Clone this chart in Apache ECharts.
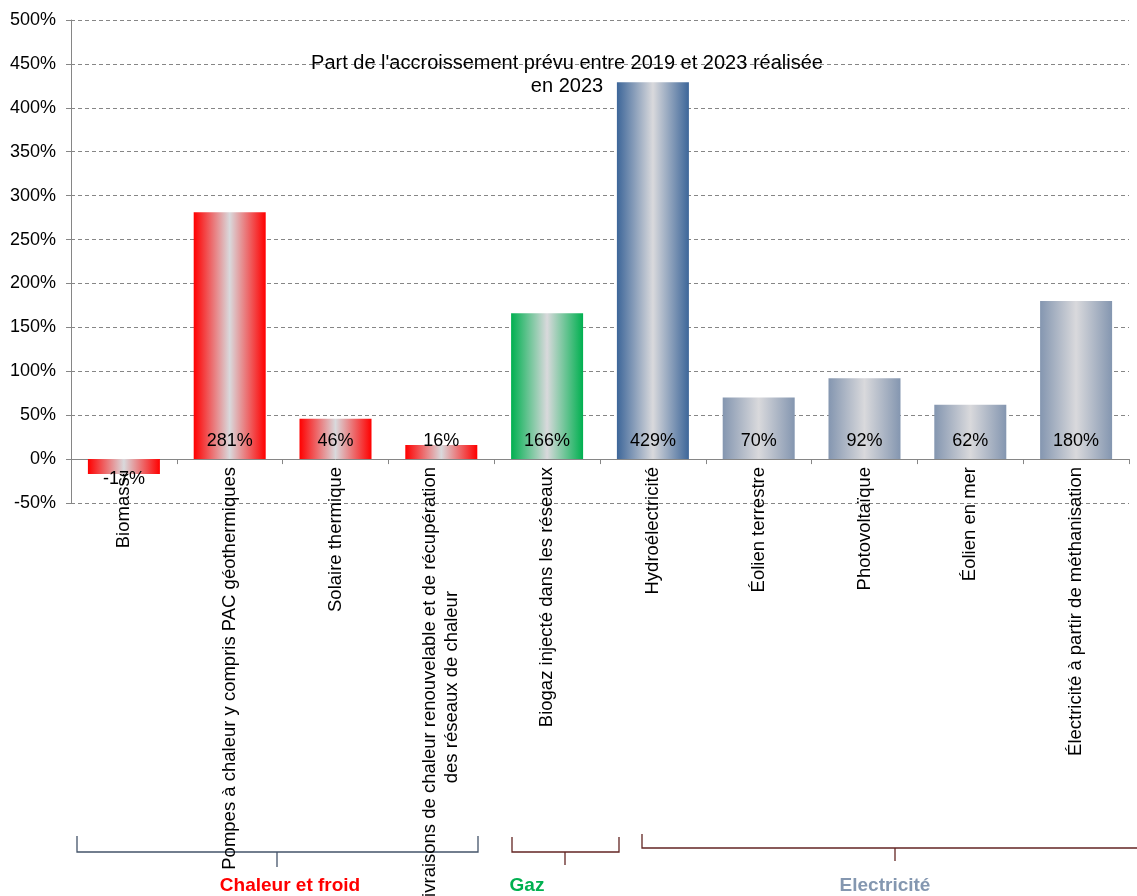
<!DOCTYPE html>
<html>
<head>
<meta charset="utf-8">
<script src="https://cdn.jsdelivr.net/npm/echarts@6/dist/echarts.min.js"></script>
<style>
  html, body { margin: 0; padding: 0; background: #fff; }
  #chart { width: 1137px; height: 896px; }
</style>
</head>
<body>
<div id="chart"></div>
<script>
// ---- Data ----
const categories = [
  'Biomasse',
  'Pompes à chaleur y compris PAC géothermiques',
  'Solaire thermique',
  'Livraisons de chaleur renouvelable et de récupération\ndes réseaux de chaleur',
  'Biogaz injecté dans les réseaux',
  'Hydroélectricité',
  'Éolien terrestre',
  'Photovoltaïque',
  'Éolien en mer',
  'Électricité à partir de méthanisation'
];
const values = [-17, 281, 46, 16, 166, 429, 70, 92, 62, 180];
const categoryGroup = ['chaleur', 'chaleur', 'chaleur', 'chaleur', 'gaz', 'hydro', 'elec', 'elec', 'elec', 'elec'];
const yTicks = { min: -50, max: 500, interval: 50 };
const titleText = "Part de l'accroissement prévu entre 2019 et 2023 réalisée\nen 2023";
const groupLabels = ['Chaleur et froid', 'Gaz', 'Electricité'];

// ---- Styles ----
const FONT = '"Liberation Sans", Arial, sans-serif';
const edgeColor = { chaleur: '#FF0000', gaz: '#00B050', hydro: '#3D6699', elec: '#8496B0' };
const centerGrey = '#D9D9DC';
function grad(c) {
  return {
    type: 'linear', x: 0, y: 0, x2: 1, y2: 0,
    colorStops: [
      { offset: 0, color: c },
      { offset: 0.5, color: centerGrey },
      { offset: 1, color: c }
    ]
  };
}

const seriesData = values.map((v, i) => {
  const item = { value: v, itemStyle: { color: grad(edgeColor[categoryGroup[i]]) } };
  if (v < 0) {
    item.label = { position: 'bottom', distance: -4 };
  }
  return item;
});

const chart = echarts.init(document.getElementById('chart'), null, { renderer: 'canvas' });
const option = {
  animation: false,
  backgroundColor: '#ffffff',
  title: {
    text: titleText,
    left: 562,
    top: 47,
    textAlign: 'center',
    textStyle: { fontFamily: FONT, fontSize: 20, fontWeight: 'normal', color: '#000', lineHeight: 23 }
  },
  grid: { left: 71, right: 8, top: 20, bottom: 393, containLabel: false, outerBoundsMode: 'none' },
  xAxis: {
    type: 'category',
    data: categories,
    axisLine: { show: true, onZero: true, lineStyle: { color: '#868686', width: 1 } },
    axisTick: { show: true, length: 5, alignWithLabel: false, lineStyle: { color: '#868686' } },
    axisLabel: {
      interval: 0,
      rotate: 90,
      margin: -36,
      color: '#000',
      fontFamily: FONT,
      fontSize: 18.5,
      formatter: function (val) {
        return val.split('\n').map(l => '{c|' + l + '}').join('\n');
      },
      rich: {
        c: { align: 'center', fontFamily: FONT, fontSize: 18.5, color: '#000', lineHeight: 22 }
      }
    },
    splitLine: { show: false }
  },
  yAxis: {
    type: 'value',
    min: yTicks.min,
    max: yTicks.max,
    interval: yTicks.interval,
    axisLine: { show: true, lineStyle: { color: '#868686', width: 1 } },
    axisTick: { show: true, length: 5, lineStyle: { color: '#868686' } },
    axisLabel: {
      margin: 15,
      color: '#000',
      fontFamily: FONT,
      fontSize: 18,
      formatter: v => v + '%'
    },
    splitLine: { show: true, lineStyle: { color: '#868686', type: [4, 3], width: 1 } }
  },
  series: [{
    type: 'bar',
    data: seriesData,
    barWidth: 72,
    label: {
      show: true,
      position: 'insideBottom',
      distance: 9,
      color: '#000',
      fontFamily: FONT,
      fontSize: 18,
      formatter: p => p.value + '%'
    }
  }],
  graphic: [
    // Chaleur et froid bracket
    { type: 'polyline', shape: { points: [[77, 836], [77, 852], [478, 852], [478, 836]] }, style: { stroke: '#44546A', lineWidth: 1.3, fill: null } },
    { type: 'polyline', shape: { points: [[277, 852], [277, 867]] }, style: { stroke: '#44546A', lineWidth: 1.3 } },
    // Gaz bracket
    { type: 'polyline', shape: { points: [[512, 837], [512, 852], [619, 852], [619, 837]] }, style: { stroke: '#632523', lineWidth: 1.3, fill: null } },
    { type: 'polyline', shape: { points: [[565, 852], [565, 865]] }, style: { stroke: '#632523', lineWidth: 1.3 } },
    // Electricité bracket
    { type: 'polyline', shape: { points: [[642, 834], [642, 848], [1140, 848]] }, style: { stroke: '#632523', lineWidth: 1.3, fill: null } },
    { type: 'polyline', shape: { points: [[895, 848], [895, 861]] }, style: { stroke: '#632523', lineWidth: 1.3 } },
    // group labels
    { type: 'text', style: { text: groupLabels[0], x: 290, y: 886, align: 'center', verticalAlign: 'middle', textAlign: 'center', textVerticalAlign: 'middle', font: 'bold 19px ' + FONT, fill: '#FF0000' } },
    { type: 'text', style: { text: groupLabels[1], x: 527, y: 886, align: 'center', verticalAlign: 'middle', textAlign: 'center', textVerticalAlign: 'middle', font: 'bold 19px ' + FONT, fill: '#00B050' } },
    { type: 'text', style: { text: groupLabels[2], x: 885, y: 886, align: 'center', verticalAlign: 'middle', textAlign: 'center', textVerticalAlign: 'middle', font: 'bold 19px ' + FONT, fill: '#8497B0' } }
  ]
};
chart.setOption(option);
</script>
</body>
</html>
